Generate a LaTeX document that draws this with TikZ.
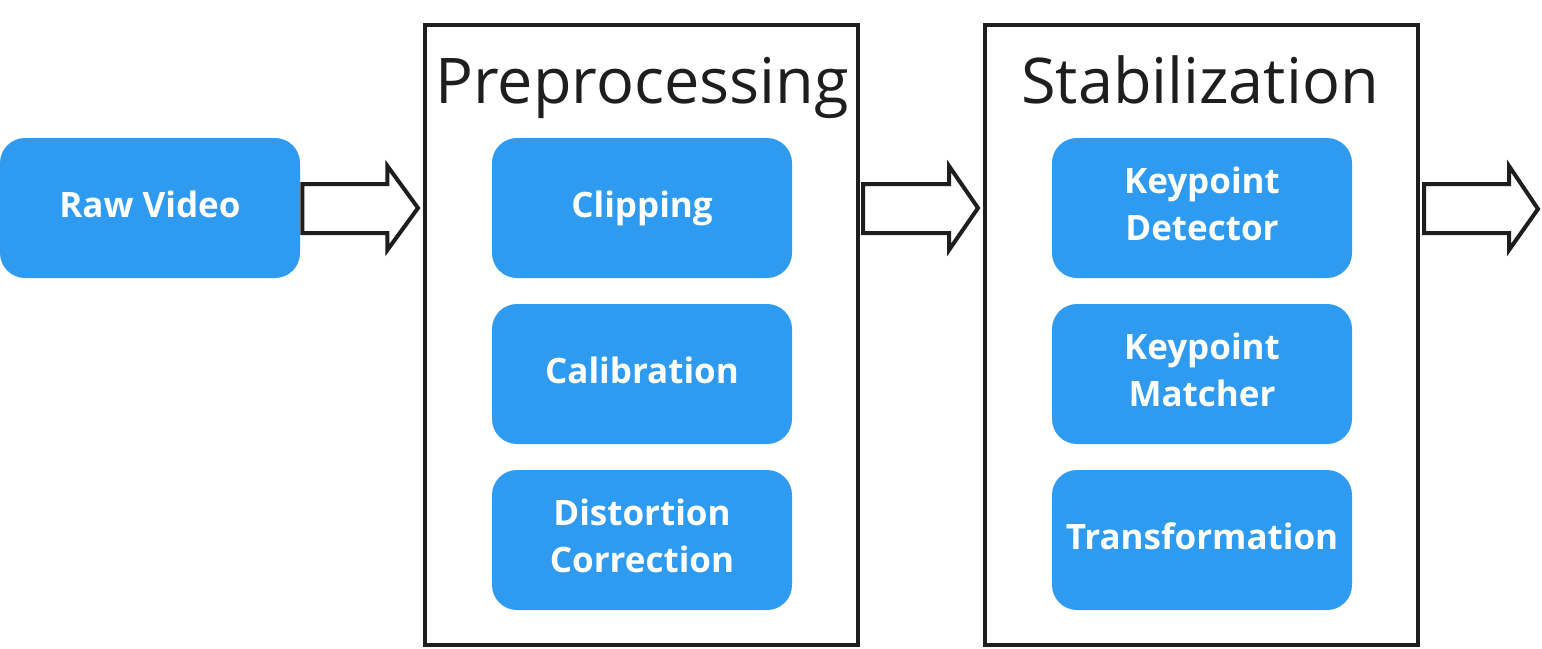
\documentclass[tikz,border=0pt]{standalone}
\usepackage{fontspec}
\setmainfont{Open Sans}
\usetikzlibrary{calc}
\definecolor{boxblue}{RGB}{46,155,240}
\definecolor{linedark}{RGB}{30,30,30}
\tikzset{
  x=0.5pt, y=-0.5pt,
  bluebox/.style={draw=none, fill=boxblue, rounded corners=12.5pt, minimum width=150pt, minimum height=70pt, inner sep=0pt, align=center, text=white, font=\fontsize{17.5}{23.5}\selectfont\bfseries, execute at end node={\vphantom{p}}},
  stagebox/.style={draw=linedark, line width=2pt, minimum width=216.5pt, minimum height=310pt, inner sep=0pt},
  stagetitle/.style={anchor=base, inner sep=0pt, text=linedark, font=\fontsize{31.5}{36}\selectfont},
  blockarrow/.style={draw=linedark, line width=2pt, fill=white, line join=miter}
}
\begin{document}
\begin{tikzpicture}
\useasboundingbox (0,0) rectangle (1542,648);
% stages
\node[stagebox] (pre) at (641.5,335) {};
\node[stagebox] (stab) at (1201.5,335) {};
\node[stagetitle] (pretitle) at (642,103) {Preprocessing};
\node[stagetitle] (stabtitle) at (1200,103) {Stabilization};
% boxes
\node[bluebox] (raw) at (150,208) {Raw Video};
\node[bluebox] (clip) at (642,208) {Clipping};
\node[bluebox] (calib) at (642,374) {Calibration};
\node[bluebox] (dist) at (642,540) {Distortion\\Correction};
\node[bluebox] (kdet) at (1202,208) {Keypoint\\Detector};
\node[bluebox] (kmat) at (1202,374) {Keypoint\\Matcher};
\node[bluebox] (trans) at (1202,540) {Transformation};
\coordinate (out) at (1538,209);
% block arrows
\draw[blockarrow] ($(raw.east)+(2,-24)$) -- ($(raw.east)+(87,-24)$) -- ($(raw.east)+(87,-42)$)
  -- ($(pre.west |- raw.east)+(-5,0)$) -- ($(raw.east)+(87,42)$) -- ($(raw.east)+(87,25)$)
  -- ($(raw.east)+(2,25)$) -- cycle;
\draw[blockarrow] ($(pre.east |- clip.east)+(3,-24)$) -- ($(pre.east |- clip.east)+(89,-24)$) -- ($(pre.east |- clip.east)+(89,-42)$)
  -- ($(stab.west |- clip.east)+(-5,0)$) -- ($(pre.east |- clip.east)+(89,42)$) -- ($(pre.east |- clip.east)+(89,25)$)
  -- ($(pre.east |- clip.east)+(3,25)$) -- cycle;
\draw[blockarrow] ($(stab.east |- kdet.east)+(4,-24)$) -- ($(stab.east |- kdet.east)+(89,-24)$) -- ($(stab.east |- kdet.east)+(89,-42)$)
  -- (out) -- ($(stab.east |- kdet.east)+(89,42)$) -- ($(stab.east |- kdet.east)+(89,25)$)
  -- ($(stab.east |- kdet.east)+(4,25)$) -- cycle;
\end{tikzpicture}
\end{document}
